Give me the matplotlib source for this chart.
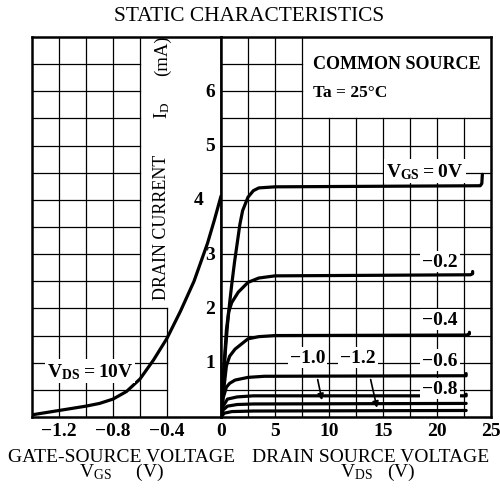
import matplotlib
matplotlib.use('Agg')
import matplotlib.pyplot as plt

plt.rcParams['font.family'] = ['Liberation Serif', 'DejaVu Serif']
plt.rcParams['mathtext.default'] = 'regular'

# ---------------- data ----------------
# transfer characteristic, VDS = 10 V
transfer_vgs = [-1.4, -1.3, -1.2, -1.1, -1.0, -0.9, -0.8, -0.7, -0.6, -0.5,
                -0.4, -0.3, -0.2, -0.1, -0.05, 0.0]
transfer_id = [0.04, 0.08, 0.12, 0.16, 0.20, 0.25, 0.33, 0.47, 0.70, 1.05,
               1.45, 1.95, 2.50, 3.20, 3.62, 4.07]

# output characteristics
vds_vgs0 = [0, 0.2, 0.4, 0.6, 0.8, 1.0, 1.25, 1.5, 1.75, 2.0, 2.5, 3.0, 3.5, 5.0, 24.0, 24.15, 24.2]
id_vgs0 = [0, 0.6, 1.2, 1.7, 2.1, 2.45, 2.85, 3.2, 3.55, 3.8, 4.05, 4.17, 4.22, 4.24, 4.26, 4.3, 4.47]

vds_vgs02 = [0, 0.2, 0.5, 0.7, 1.0, 1.6, 2.5, 3.5, 5.0, 23.1, 23.3, 23.3]
id_vgs02 = [0, 0.7, 1.6, 1.93, 2.11, 2.3, 2.48, 2.56, 2.6, 2.62, 2.64, 2.68]

vds_vgs04 = [0, 0.25, 0.5, 0.8, 1.3, 2.5, 3.5, 5.0, 22.8, 23.0, 23.0]
id_vgs04 = [0, 0.5, 0.94, 1.12, 1.25, 1.44, 1.48, 1.5, 1.51, 1.53, 1.56]

vds_vgs06 = [0, 0.2, 0.5, 0.8, 1.3, 2.5, 4.0, 22.7, 22.7]
id_vgs06 = [0, 0.35, 0.55, 0.62, 0.68, 0.73, 0.75, 0.76, 0.8]

vds_vgs08 = [0, 0.2, 0.6, 1.5, 3.0, 22.7, 22.7]
id_vgs08 = [0, 0.2, 0.33, 0.37, 0.39, 0.39, 0.42]

vds_vgs10 = [0, 0.2, 0.6, 1.5, 3.0, 22.7]
id_vgs10 = [0, 0.13, 0.2, 0.23, 0.24, 0.25]

vds_vgs12 = [0, 0.3, 1.0, 3.0, 22.7]
id_vgs12 = [0, 0.07, 0.1, 0.11, 0.12]

curve_labels = ['V$_{GS}$\u2009=\u20090V', '−0.2', '−0.4', '−0.6', '−0.8', '−1.0', '−1.2']

left_xticks = [-1.2, -0.8, -0.4]
left_xticklabels = ['−1.2', '−0.8', '−0.4']
right_xticks = [0, 5, 10, 15, 20, 25]
right_xticklabels = ['0', '5', '10', '15', '20', '25']
yticks = [1, 2, 3, 4, 5, 6]
yticklabels = ['1', '2', '3', '4', '5', '6']

# ---------------- figure ----------------
W, H = 500, 489
fig = plt.figure(figsize=(W / 100, H / 100), dpi=100)


def fx(px):
    return px / W


def fy(py):
    return 1 - py / H


axL = fig.add_axes([fx(32), fy(418), fx(221) - fx(32), fy(38) - fy(418)])
axR = fig.add_axes([fx(221), fy(418), fx(491) - fx(221), fy(38) - fy(418)])

for ax in (axL, axR):
    ax.set_ylim(0, 7)
    ax.set_xticks([])
    ax.set_yticks([])
    for s in ax.spines.values():
        s.set_linewidth(1.8)
axL.set_xlim(-1.4, 0)
axR.set_xlim(0, 25)

GL = dict(color='black', lw=0.9, zorder=1)
# left grid
for x in [-1.2, -1.0, -0.8, -0.6]:
    axL.plot([x, x], [0, 7], **GL)
axL.plot([-0.4, -0.4], [0, 2], **GL)
for k in range(1, 14):
    y = 0.5 * k
    xe = -0.4 if y <= 2 else -0.6
    axL.plot([-1.4, xe], [y, y], **GL)
# right grid
for k in range(1, 10):
    x = 2.5 * k
    ye = 7 if x <= 7.5 else 5.5
    axR.plot([x, x], [0, ye], **GL)
for k in range(1, 14):
    y = 0.5 * k
    xe = 25 if y <= 5.5 else 7.5
    axR.plot([0, xe], [y, y], **GL)

CL = dict(color='black', lw=2.3, zorder=3, solid_capstyle='round', solid_joinstyle='round')
axL.plot(transfer_vgs, transfer_id, **CL)
for vx, iy in [(vds_vgs0, id_vgs0), (vds_vgs02, id_vgs02), (vds_vgs04, id_vgs04),
               (vds_vgs06, id_vgs06), (vds_vgs08, id_vgs08), (vds_vgs10, id_vgs10),
               (vds_vgs12, id_vgs12)]:
    axR.plot(vx, iy, **CL)

BB = dict(facecolor='white', edgecolor='none', pad=1.5)
NF = 14
TF = dict(fontsize=NF, fontweight='bold', zorder=5)

# y tick labels (inside the blank column)
for v, lab in zip(yticks, yticklabels):
    xx = -0.163 if v == 4 else -0.081
    axL.text(xx, v, lab, ha='center', va='center', **TF)

# x tick labels
for v, lab in zip(left_xticks, left_xticklabels):
    px = 32 + (v + 1.4) / 1.4 * (221 - 32)
    fig.text(fx(px), fy(432), lab, ha='center', va='center', fontsize=NF, fontweight='bold')
for v, lab in zip(right_xticks, right_xticklabels):
    px = 221 + v / 25 * (491 - 221)
    fig.text(fx(px), fy(432), lab, ha='center', va='center', fontsize=NF, fontweight='bold')

# curve labels
axR.text(18.9, 4.53, curve_labels[0], ha='center', va='center', bbox=BB, **TF)
axR.text(20.3, 2.87, curve_labels[1], ha='center', va='center', bbox=BB, **TF)
axR.text(20.3, 1.8, curve_labels[2], ha='center', va='center', bbox=BB, **TF)
axR.text(20.3, 1.05, curve_labels[3], ha='center', va='center', bbox=BB, **TF)
axR.text(20.3, 0.53, curve_labels[4], ha='center', va='center', bbox=BB, **TF)
axR.text(8.0, 1.1, curve_labels[5], ha='center', va='center', bbox=BB, **TF)
axR.text(12.7, 1.1, curve_labels[6], ha='center', va='center', bbox=BB, **TF)

AP = dict(arrowstyle='-|>', color='black', lw=1.2, mutation_scale=9)
axR.annotate('', xy=(9.4, 0.26), xytext=(8.9, 0.74), arrowprops=AP, zorder=6)
axR.annotate('', xy=(14.5, 0.12), xytext=(13.8, 0.74), arrowprops=AP, zorder=6)

axL.text(-0.97, 0.85, 'V$_{DS}$\u2009=\u200910V', ha='center', va='center', bbox=BB, **TF)

axR.text(8.5, 6.52, 'COMMON SOURCE', ha='left', va='center', fontsize=13, fontweight='bold')
axR.text(8.5, 5.99, 'Ta = 25°C', ha='left', va='center', fontsize=12.5, fontweight='bold')

# y axis label (rotated, in three pieces as in the reference)
fig.text(fx(162), fy(227), 'DRAIN CURRENT', rotation=90, ha='center', va='center', fontsize=13)
fig.text(fx(162), fy(110), 'I$_{D}$', rotation=90, ha='center', va='center', fontsize=13.5)
fig.text(fx(162), fy(56), '(mA)', rotation=90, ha='center', va='center', fontsize=13.5)

# title and axis titles
fig.text(fx(249), fy(21), 'STATIC CHARACTERISTICS', ha='center', va='baseline', fontsize=15.4)
fig.text(fx(121), fy(477), 'GATE-SOURCE VOLTAGE\nV$_{GS}$     (V)', ha='center',
         va='baseline', multialignment='center', linespacing=0.75, fontsize=14)
fig.text(fx(371), fy(477), 'DRAIN SOURCE VOLTAGE\n   V$_{DS}$   (V)', ha='center',
         va='baseline', multialignment='center', linespacing=0.75, fontsize=14)

fig.savefig('out.png', dpi=100, facecolor='white')
